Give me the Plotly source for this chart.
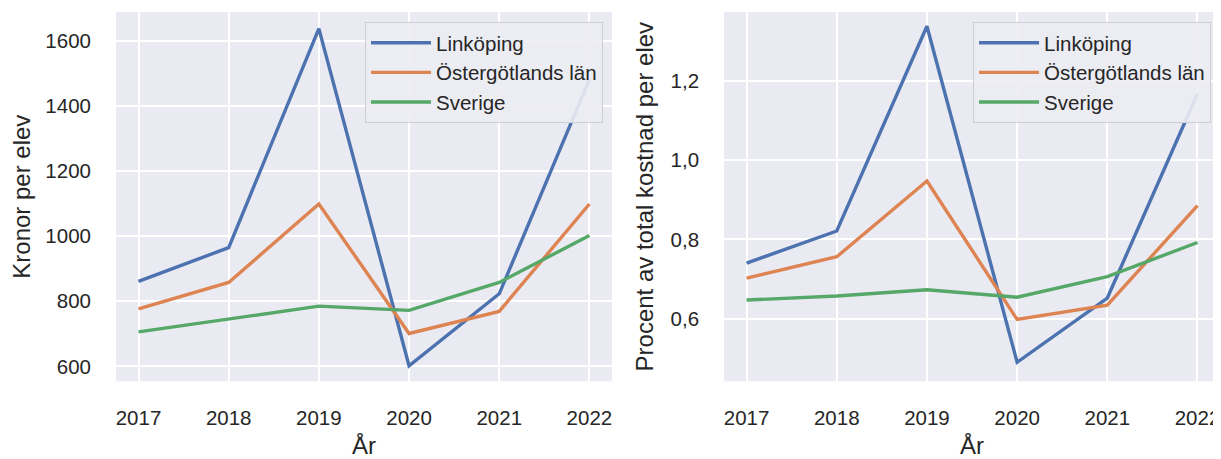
import plotly.graph_objects as go
from plotly.subplots import make_subplots

years = [2017, 2018, 2019, 2020, 2021, 2022]
series_names = ["Linköping", "Östergötlands län", "Sverige"]
colors = ["#4C72B0", "#DD8452", "#55A868"]

kronor_linkoping = [861, 965, 1638, 602, 823, 1482]
kronor_ostergotland = [777, 858, 1099, 701, 769, 1099]
kronor_sverige = [706, 745, 785, 772, 858, 1002]

procent_linkoping = [0.740, 0.821, 1.337, 0.490, 0.652, 1.167]
procent_ostergotland = [0.702, 0.756, 0.947, 0.598, 0.634, 0.885]
procent_sverige = [0.647, 0.657, 0.673, 0.654, 0.706, 0.792]

left_data = [kronor_linkoping, kronor_ostergotland, kronor_sverige]
right_data = [procent_linkoping, procent_ostergotland, procent_sverige]

fig = make_subplots(rows=1, cols=2)

for name, col, vals in zip(series_names, colors, left_data):
    fig.add_trace(go.Scatter(x=years, y=vals, mode="lines", name=name,
                             line=dict(color=col, width=3.4), legend="legend"),
                  row=1, col=1)
for name, col, vals in zip(series_names, colors, right_data):
    fig.add_trace(go.Scatter(x=years, y=vals, mode="lines", name=name,
                             line=dict(color=col, width=3.4), legend="legend2"),
                  row=1, col=2)

FAM = "Liberation Sans, Arial, sans-serif"
tick_font = dict(family=FAM, size=20.5, color="#262626")
title_font = dict(family=FAM, size=24, color="#262626")
axis_common = dict(showgrid=True, gridcolor="white", gridwidth=1.8, zeroline=False,
                   showline=False, ticks="", tickfont=tick_font)

legend_common = dict(bgcolor="rgba(236,236,243,0.9)", bordercolor="#cfcfd6", borderwidth=1,
                     font=dict(family=FAM, size=20.5, color="#262626"),
                     xanchor="left", yanchor="top", itemwidth=60, tracegroupgap=0)

YDOM = [0.1685, 0.9911]

fig.update_layout(
    width=1213, height=451,
    margin=dict(l=0, r=0, t=0, b=0),
    paper_bgcolor="white", plot_bgcolor="#EAEAF2",
    separators=", ",
    font=tick_font,
    xaxis=dict(domain=[0.0890, 0.4979], range=[2016.75, 2022.25], tickvals=years,
               title=dict(text="År", font=title_font, standoff=13), ticklabelstandoff=22, **axis_common),
    yaxis=dict(domain=YDOM, range=[554, 1689], tickvals=[600, 800, 1000, 1200, 1400, 1600],
               title=dict(text="Kronor per elev", font=title_font, standoff=12), ticklabelstandoff=24,
               **axis_common),
    xaxis2=dict(domain=[0.5903, 0.9992], range=[2016.75, 2022.25], tickvals=years,
                title=dict(text="År", font=title_font, standoff=13), ticklabelstandoff=22, **axis_common),
    yaxis2=dict(domain=YDOM, range=[0.442, 1.373], tickvals=[0.6, 0.8, 1.0, 1.2],
                tickformat=".1f",
                title=dict(text="Procent av total kostnad per elev", font=title_font, standoff=10),
                ticklabelstandoff=24, **axis_common),
    legend=dict(x=0.2943, y=0.969, **legend_common),
    legend2=dict(x=0.7956, y=0.969, **legend_common),
)

fig.write_html("out.html")
